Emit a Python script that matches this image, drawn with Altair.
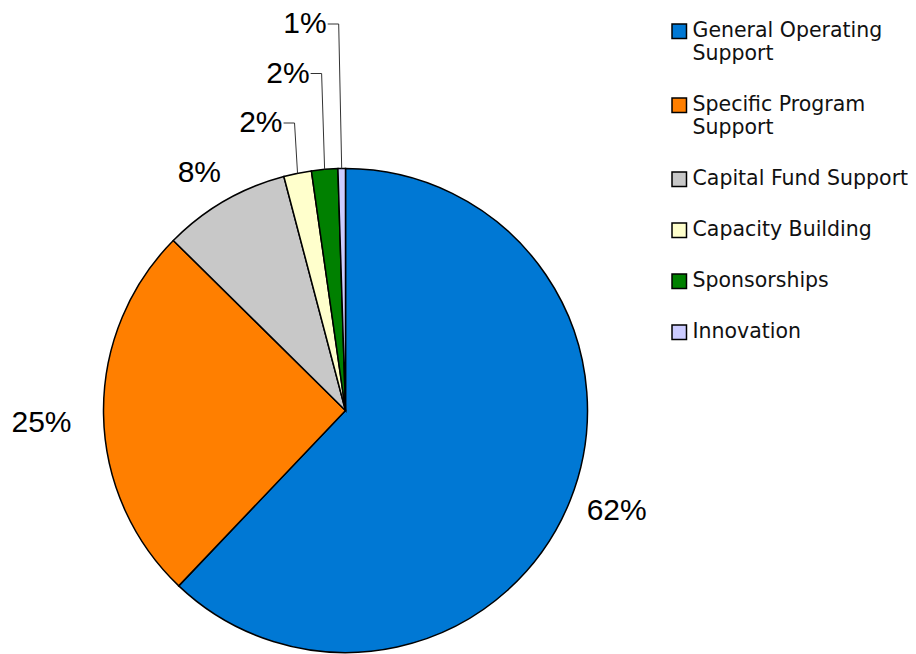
import altair as alt
import pandas as pd

categories = ["General Operating Support", "Specific Program Support", "Capital Fund Support",
              "Capacity Building", "Sponsorships", "Innovation"]
values = [62.1, 25.3, 8.5, 1.85, 1.75, 0.5]
pct_labels = ["62%", "25%", "8%", "2%", "2%", "1%"]
colors = ["#0078D4", "#FF7F00", "#C8C8C8", "#FFFFCC", "#008000", "#CCCCFF"]
legend_lines = [["General Operating", "Support"], ["Specific Program", "Support"],
                ["Capital Fund Support"], ["Capacity Building"], ["Sponsorships"], ["Innovation"]]

CX, CY, R = 337.5, 402.5, 242

df = pd.DataFrame({"category": categories, "value": values, "label": pct_labels,
                   "order": list(range(len(categories)))})

expr = "datum.label"
for cat, lines in reversed(list(zip(categories, legend_lines))):
    arr = "[" + ",".join("'" + l + "'" for l in lines) + "]"
    expr = f"datum.label == '{cat}' ? {arr} : ({expr})"

pie = alt.Chart(df).mark_arc(outerRadius=R, stroke="black", strokeWidth=1.5).encode(
    theta=alt.Theta("value:Q", stack=True),
    order=alt.Order("order:Q"),
    color=alt.Color("category:N", scale=alt.Scale(domain=categories, range=colors), sort=categories,
                    legend=alt.Legend(title=None, orient="none", legendX=661, legendY=13,
                                      symbolType="square", symbolSize=210, symbolStrokeColor="black",
                                      symbolStrokeWidth=1.5, symbolOpacity=1,
                                      labelFont="DejaVu Sans", labelFontSize=20.5,
                                      labelColor="#111", labelOffset=3, labelLimit=0,
                                      labelExpr=expr, rowPadding=30)),
    x=alt.value(CX), y=alt.value(CY),
)

base = alt.Chart(df).transform_joinaggregate(total="sum(value)").transform_window(
    cum="sum(value)", sort=[alt.SortField("order")]
).transform_calculate(a="(datum.cum - datum.value/2)/datum.total*2*PI")

big = base.transform_filter("datum.order < 3").transform_calculate(
    hw="(16.7*(length(datum.label)-1)+26.7)/2"
).transform_calculate(
    g="14 + 18*pow(max(0, -sin(datum.a)), 6)"
).transform_calculate(
    d=f"{R}+datum.g+datum.hw*abs(sin(datum.a))+14*abs(cos(datum.a))"
).transform_calculate(
    b="datum.a - 1.5*PI/180"
).transform_calculate(
    lx=f"{CX}+datum.d*sin(datum.b)"
).transform_calculate(
    ly=f"{CY}-datum.d*cos(datum.b)"
).mark_text(font="Liberation Sans", fontSize=30, align="center", baseline="middle", color="black").encode(
    x=alt.X("lx:Q", scale=None), y=alt.Y("ly:Q", scale=None), text="label:N"
)

small = base.transform_filter("datum.order >= 3").transform_calculate(
    xe=f"{CX}+{R}*sin(datum.a)"
).transform_calculate(
    ye=f"{CY}-{R}*cos(datum.a)"
).transform_calculate(
    yl=f"{CY - R}-45.5-49.5*(datum.order-3)"
).transform_calculate(
    xc="datum.xe-3"
).transform_calculate(
    xl="datum.xc-11"
)

leader_v = small.mark_rule(color="#333", strokeWidth=1).encode(
    x=alt.X("xe:Q", scale=None), y=alt.Y("ye:Q", scale=None), x2="xc:Q", y2="yl:Q"
)
leader_h = small.mark_rule(color="#333", strokeWidth=1).encode(
    x=alt.X("xl:Q", scale=None), x2="xc:Q", y=alt.Y("yl:Q", scale=None)
)
small_text = small.mark_text(font="Liberation Sans", fontSize=30, align="right", baseline="middle",
                             dx=-1, color="black").encode(
    x=alt.X("xl:Q", scale=None), y=alt.Y("yl:Q", scale=None), text="label:N"
)

chart = alt.layer(pie, leader_v, leader_h, big, small_text).properties(
    width=900, height=646, autosize="none", padding=0
).configure_view(stroke=None)

chart.save("out.html", embed_options={"renderer": "svg", "actions": False})
